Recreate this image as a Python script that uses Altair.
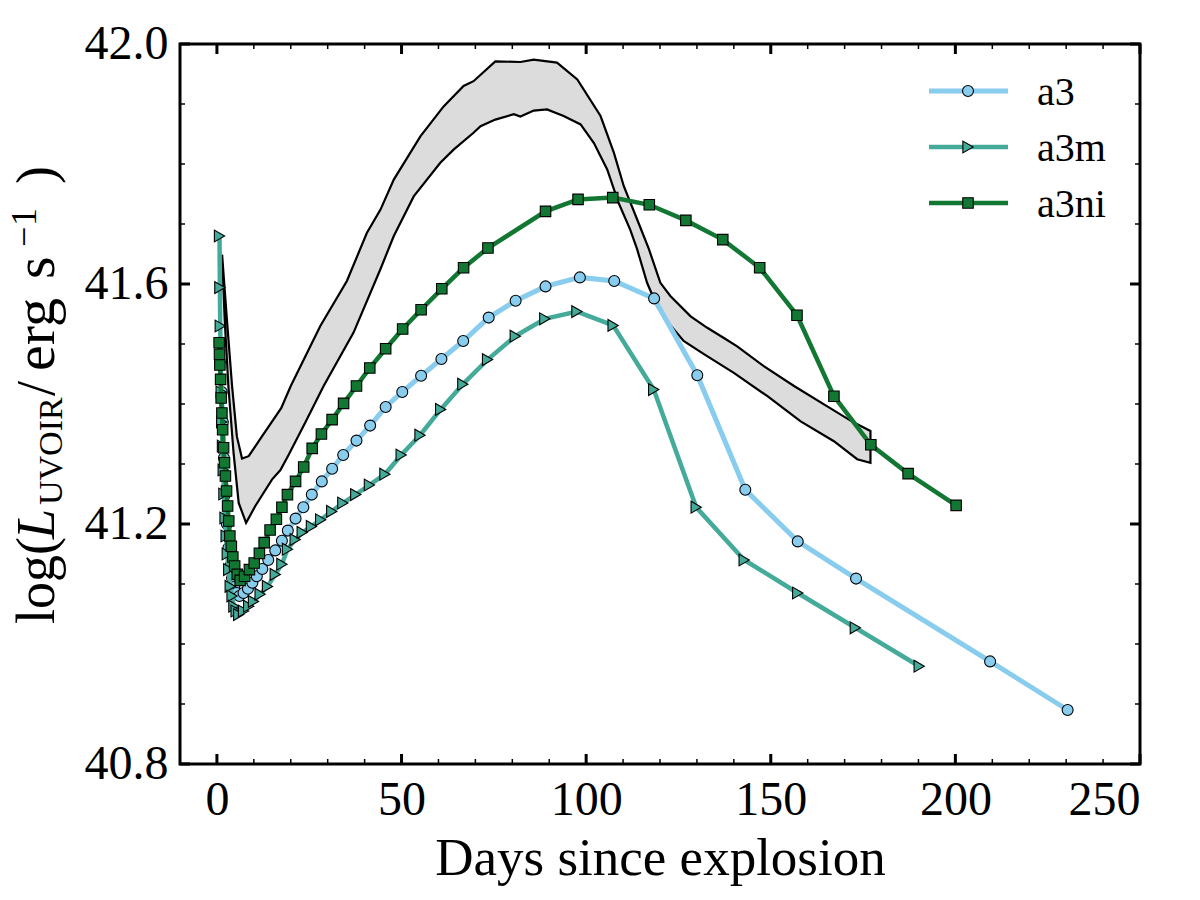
import altair as alt
import pandas as pd

# ---------------- data ----------------
a3_x = [1.3, 1.6, 1.9, 2.3, 2.7, 3.1, 3.6, 4.1, 4.7, 5.3, 6.1, 7.2, 8.4, 9.6, 10.8,
        12.3, 13.9, 15.8, 17.6, 19.2, 21.3, 23.4, 25.7, 28.4, 31.2, 34.2, 37.8, 41.5,
        45.7, 50.2, 55.3, 60.8, 66.7, 73.6, 80.9, 89.0, 98.3, 107.6, 118.4, 130.1,
        143.1, 157.3, 173.1, 209.4, 230.4]
a3_y = [41.42, 41.37, 41.31, 41.25, 41.20, 41.16, 41.13, 41.11, 41.095, 41.085,
        41.080, 41.085, 41.092, 41.102, 41.113, 41.125, 41.140, 41.156, 41.172, 41.189,
        41.209, 41.228, 41.249, 41.271, 41.292, 41.315, 41.339, 41.364, 41.395, 41.420,
        41.447, 41.475, 41.505, 41.544, 41.572, 41.596, 41.611, 41.605, 41.576, 41.448,
        41.257, 41.171, 41.109, 40.971, 40.890]

a3m_x = [0.7, 0.8, 0.9, 1.0, 1.15, 1.3, 1.5, 1.7, 1.9, 2.2, 2.5, 2.8, 3.2, 3.6, 4.1, 4.6,
         5.2, 5.9, 7.2, 8.6, 9.9, 11.7, 13.7, 15.8, 17.6, 19.1, 21.2, 23.1, 25.6, 28.1,
         31.1, 34.1, 37.6, 41.3, 45.5, 49.9, 55.0, 60.6, 66.6, 73.3, 80.8, 88.8, 97.5,
         107.3, 118.3, 129.8, 142.8, 157.3, 172.9, 190.2]
a3m_y = [41.680, 41.594, 41.530, 41.47, 41.42, 41.37, 41.33, 41.29, 41.25, 41.21, 41.18,
         41.15, 41.124, 41.096, 41.080, 41.063, 41.055, 41.049, 41.055, 41.063, 41.071,
         41.083, 41.096, 41.116, 41.133, 41.158, 41.174, 41.186, 41.196, 41.207, 41.221,
         41.235, 41.249, 41.265, 41.283, 41.315, 41.348, 41.391, 41.433, 41.474, 41.513,
         41.542, 41.554, 41.531, 41.424, 41.228, 41.140, 41.085, 41.027, 40.963]

a3ni_x = [0.6, 0.7, 0.8, 1.0, 1.15, 1.35, 1.55, 1.8, 2.05, 2.3, 2.6, 2.9, 3.2, 3.5, 3.9,
          4.3, 4.8, 5.5, 6.3, 7.5, 8.8, 10.1, 11.5, 12.8, 14.4, 16.1, 17.6, 19.1, 21.3,
          23.5, 25.8, 28.3, 31.2, 34.3, 37.8, 41.4, 45.7, 50.3, 55.3, 60.9, 66.8, 73.4,
          89.0, 97.8, 107.2, 117.1, 127.0, 137.0, 147.0, 157.1, 167.1, 177.1, 187.2, 200.2]
a3ni_y = [41.502, 41.483, 41.465, 41.441, 41.41, 41.385, 41.357, 41.327, 41.302, 41.28,
          41.255, 41.23, 41.205, 41.18, 41.163, 41.145, 41.13, 41.116, 41.106, 41.113,
          41.124, 41.135, 41.151, 41.169, 41.190, 41.208, 41.228, 41.249, 41.271, 41.295,
          41.326, 41.350, 41.374, 41.401, 41.430, 41.460, 41.492, 41.525, 41.557, 41.592,
          41.627, 41.660, 41.721, 41.741, 41.744, 41.732, 41.706, 41.674, 41.627, 41.548,
          41.413, 41.332, 41.284, 41.231]

# observed band: lower and upper edges
band_lo_x = [1.4, 2.1, 3.1, 4.5, 5.9, 7.9, 10.4, 14.9, 17.2, 19.4, 24.0, 28.9, 37.0, 44.3,
             47.9, 53.3, 60.5, 64.1, 69.5, 71.4, 75.4, 80.4, 82.2, 85.8, 89.4, 93.9, 98.5,
             102.1, 105.7, 108.8, 111.9, 113.8, 116.5, 119.2, 121.9, 126.4, 131.9, 140.0,
             149.1, 158.1, 167.1, 173.4, 177.0]
band_lo_y = [41.649, 41.541, 41.430, 41.319, 41.235, 41.202, 41.230, 41.274, 41.290, 41.315,
             41.370, 41.430, 41.519, 41.625, 41.680, 41.746, 41.802, 41.824, 41.852, 41.863,
             41.874, 41.883, 41.879, 41.889, 41.891, 41.880, 41.866, 41.835, 41.791, 41.735,
             41.691, 41.658, 41.602, 41.563, 41.538, 41.505, 41.483, 41.452, 41.413, 41.371,
             41.338, 41.308, 41.302]
band_hi_x = [1.4, 2.7, 4.1, 5.4, 6.8, 8.6, 12.2, 17.4, 20.0, 24.0, 28.0, 35.2, 40.6, 44.3,
             47.9, 55.1, 61.4, 66.8, 69.5, 75.4, 82.2, 85.8, 92.1, 97.6, 103.9, 107.5, 110.2,
             114.3, 117.0, 120.1, 122.8, 128.3, 132.8, 137.3, 140.9, 148.1, 156.3, 165.3,
             172.5, 177.0]
band_hi_y = [41.649, 41.541, 41.430, 41.346, 41.309, 41.313, 41.346, 41.393, 41.430, 41.480,
             41.530, 41.605, 41.685, 41.724, 41.774, 41.846, 41.896, 41.930, 41.938, 41.971,
             41.970, 41.974, 41.969, 41.941, 41.880, 41.819, 41.763, 41.700, 41.658, 41.602,
             41.580, 41.546, 41.527, 41.510, 41.496, 41.463, 41.430, 41.396, 41.369, 41.355]

series_names = ["a3", "a3m", "a3ni"]
series_colors = ["#88CCEE", "#44AA99", "#117733"]

x_major = [0, 50, 100, 150, 200, 250]
x_minor = [v for v in range(-10, 251, 10) if v % 50 != 0]
y_major = [40.8, 41.2, 41.6, 42.0]
y_minor = [40.9, 41.0, 41.1, 41.3, 41.4, 41.5, 41.7, 41.8, 41.9]

# ---------------- chart ----------------
W, H = 960, 720
FONT = "Liberation Serif"
xs = alt.Scale(domain=[-10, 250], nice=False, zero=False)
ys = alt.Scale(domain=[40.8, 42.0], nice=False, zero=False)
XAX = alt.Axis(values=x_major, title="Days since explosion", labelPadding=12,
               titlePadding=8, format="d", domain=False, ticks=False, grid=False,
               labelFont=FONT, labelFontSize=48, labelColor="black",
               titleFont=FONT, titleFontSize=53, titleColor="black", titleFontWeight="normal")
YAX = alt.Axis(values=y_major, title=None, format=".1f", labelPadding=12,
               domain=False, ticks=False, grid=False,
               labelFont=FONT, labelFontSize=48, labelColor="black")


def X(field):
    return alt.X(field, type="quantitative", scale=xs, axis=XAX)


def Y(field):
    return alt.Y(field, type="quantitative", scale=ys, axis=YAX)


layers = []

# band polygon: lower edge forward, upper edge backward
poly_x = band_lo_x + band_hi_x[::-1]
poly_y = band_lo_y + band_hi_y[::-1]
band_df = pd.DataFrame({"x": poly_x, "y": poly_y, "i": list(range(len(poly_x)))})
layers.append(
    alt.Chart(band_df).mark_line(fill="#dcdcdc", stroke="black", strokeWidth=2.2)
    .encode(x=X("x"), y=Y("y"), order=alt.Order("i:Q"))
)

series = [
    (a3_x, a3_y, "circle", 120, 5.0),
    (a3m_x, a3m_y, "triangle-right", 140, 4.5),
    (a3ni_x, a3ni_y, "square", 110, 4.5),
]
for (sx, sy, shape, size, lw), name, col in zip(series, series_names, series_colors):
    df = pd.DataFrame({"x": sx, "y": sy, "s": name})
    layers.append(alt.Chart(df).mark_line(color=col, strokeWidth=lw)
                  .encode(x=X("x"), y=Y("y")))
    layers.append(alt.Chart(df).mark_point(shape=shape, size=size, filled=True, fill=col,
                                           stroke="black", strokeWidth=1.1, opacity=1)
                  .encode(x=X("x"), y=Y("y")))


# inward ticks on all four sides
def xticks(vals, length, width):
    df = pd.DataFrame({"v": vals})
    bot = alt.Chart(df).mark_rule(color="black", strokeWidth=width).encode(
        x=X("v"), y=alt.value(H), y2=alt.value(H - length))
    top = alt.Chart(df).mark_rule(color="black", strokeWidth=width).encode(
        x=X("v"), y=alt.value(0), y2=alt.value(length))
    return [bot, top]


def yticks(vals, length, width):
    df = pd.DataFrame({"v": vals})
    left = alt.Chart(df).mark_rule(color="black", strokeWidth=width).encode(
        y=Y("v"), x=alt.value(0), x2=alt.value(length))
    right = alt.Chart(df).mark_rule(color="black", strokeWidth=width).encode(
        y=Y("v"), x=alt.value(W), x2=alt.value(W - length))
    return [left, right]


layers += xticks(x_major, 10, 3) + xticks(x_minor, 5, 1.5)
layers += yticks(y_major, 10, 3) + yticks(y_minor, 5, 1.5)

# legend (manual: line + marker + label)
leg_df = pd.DataFrame({"s": series_names})
leg_rows = [47, 103, 159]
for (sx, sy, shape, size, lw), name, col, ly in zip(series, series_names, series_colors, leg_rows):
    d = leg_df[leg_df.s == name]
    layers.append(alt.Chart(d).mark_rule(color=col, strokeWidth=lw).encode(
        x=alt.value(749), x2=alt.value(828), y=alt.value(ly)))
    layers.append(alt.Chart(d).mark_point(shape=shape, size=size, filled=True, fill=col,
                                          stroke="black", strokeWidth=1.1, opacity=1).encode(
        x=alt.value(788), y=alt.value(ly)))
    layers.append(alt.Chart(d).mark_text(font=FONT, fontSize=40, align="left",
                                         baseline="middle", dy=2, color="black").encode(
        x=alt.value(857), y=alt.value(ly), text="s:N"))

# y-axis title built from pieces (subscript / superscript); y = start of each piece
title_pieces = [
    ("log(", 54, "normal", 0, 580),
    ("L", 54, "italic", 0, 495),
    ("UVOIR", 34, "normal", 8, 461),
    ("/", 54, "normal", 0, 352),
    ("erg", 58, "normal", 0, 327),
    ("s", 58, "normal", 0, 235),
    ("\u2212", 36, "normal", -18, 203),
    ("1", 36, "normal", -18, 182),
    (")", 54, "normal", 0, 140),
]
base_x = -126
tdf = pd.DataFrame({"k": [0]})
for txt, fs, style, shift, ypos in title_pieces:
    layers.append(alt.Chart(tdf).mark_text(text=txt, font=FONT, fontSize=fs, fontStyle=style,
                                           angle=270, align="left", baseline="alphabetic",
                                           color="black").encode(
        x=alt.value(base_x + shift), y=alt.value(ypos)))

chart = alt.layer(*layers).properties(
    width=W, height=H,
    background="white",
    autosize=alt.AutoSizeParams(type="none"),
    padding={"left": 180, "top": 44, "right": 60, "bottom": 136},
).configure_view(stroke="black", strokeWidth=3)

chart.save("out.html", embed_options={"renderer": "svg", "actions": False})
